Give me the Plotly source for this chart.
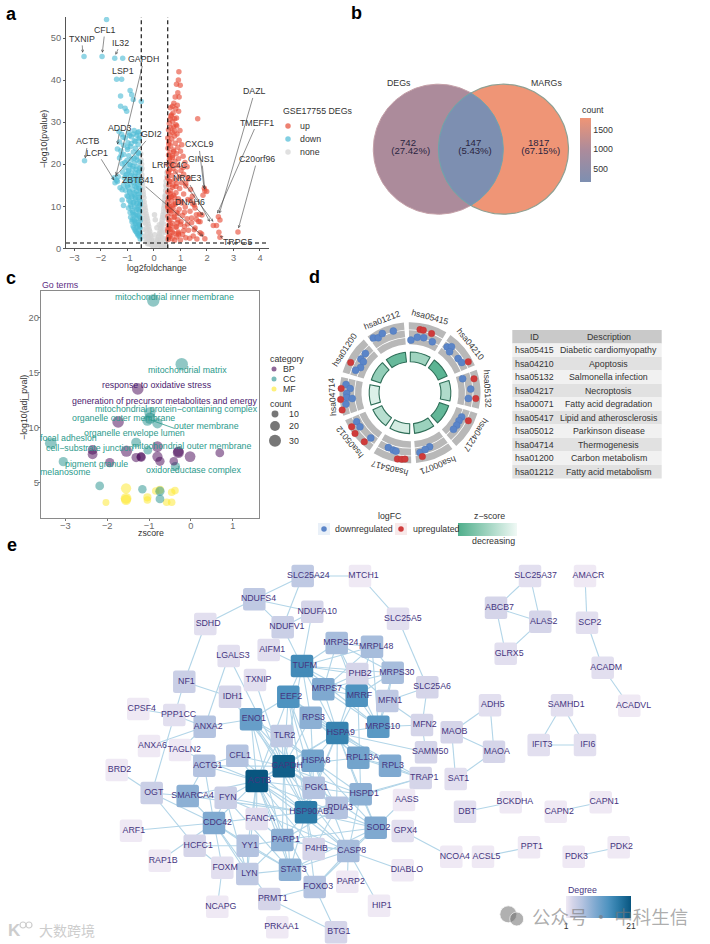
import numpy as np
import plotly.graph_objects as go

W, H = 710, 944
FONT = "Liberation Sans"

# ---------- panel a data ----------
up_x = [0.94,0.92,0.99,0.85,0.9,0.95,0.8,0.75,0.88,0.7,0.82,0.62,0.93,0.72,0.66,0.85,0.78,0.6,0.7,0.58,0.83,1.65,0.74,0.64,0.55,0.98,0.69,0.87,0.6,0.78,
 0.52,0.67,0.95,0.57,0.8,1.05,0.63,0.9,0.53,0.74,1.0,0.6,0.84,0.55,1.1,0.7,0.93,0.58,0.79,1.17,0.65,0.53,0.88,1.25,0.72,0.6,1.02,0.82,0.55,1.12,
 0.67,0.95,0.52,1.3,0.77,0.6,1.05,0.86,0.56,1.2,0.7,0.97,1.38,0.62,0.53,0.83,1.12,0.74,1.45,0.58,0.92,1.28,0.66,0.52,1.05,0.8,1.52,0.6,1.18,0.72,
 0.95,0.55,1.36,0.85,0.65,1.6,1.08,0.53,0.76,1.25,0.9,0.6,1.68,1.42,0.7,1.0,0.55,1.15,0.82,1.55,0.64,1.3,0.52,0.92,1.74,0.75,1.08,0.58,1.48,0.86,
 1.2,0.68,0.54,1.62,1.0,0.78,1.35,0.6,0.93,1.8,0.7,1.12,0.53,1.52,0.85,0.63,1.27,1.02,0.56,1.42,0.76,0.9,1.15,0.6,0.52,0.7,0.82,0.98,0.55,0.66,
 1.92,1.99,1.9,1.85,1.81,1.74,1.92,2.24,2.36,2.43,2.49,2.45,2.49,3.17,1.72,1.6,1.55,1.46,1.38,1.2,1.1,1.28,
 0.58,0.72,0.62,0.78,0.54,0.68,0.88,0.6,0.75,0.56,0.66,0.83,0.52,0.7,0.6,0.92,0.55,0.78,0.64,0.86]
up_y = [42,40,38.8,39,37,36,36,34.5,34,33.8,33.2,33.4,32.6,32.2,31.7,31,30.8,30.7,30.2,29.7,29.4,30.8,28.9,28.6,28.2,28,27.6,27.2,27,26.7,
 26.2,26,25.7,25.3,25,24.6,24.3,24,23.8,23.4,23.1,22.8,22.5,22.2,21.9,21.6,21.3,21,20.7,20.4,20.1,19.9,19.6,19.4,19,18.7,18.5,18.2,17.9,17.6,
 17.3,17,16.7,16.5,16.2,15.9,15.6,15.4,15.1,14.8,14.5,14.2,14,13.7,13.4,13.2,12.9,12.6,12.4,12.1,11.8,11.6,11.3,11,10.8,10.5,10.3,10,9.8,9.5,
 9.3,9,8.8,8.5,8.3,8,7.8,7.6,7.3,7,6.8,6.6,6.4,6.1,5.9,5.7,5.4,5.2,5,4.8,4.5,4.3,4.1,3.9,3.7,3.5,3.3,3.1,2.9,2.7,
 2.5,2.3,2.1,2.2,2,1.9,2.4,2.8,3.2,3.4,3.8,4.2,4.7,4.4,5.1,5.5,5.8,6.3,6.7,7.2,7.5,8.2,8.6,9.2,9.7,10.2,10.7,11.2,11.9,12.3,
 13.7,13.5,14.3,12.6,7.9,6.3,2.3,5.4,5.4,7.5,6.7,3.8,2.6,3.9,8.1,6.9,9.6,10.6,11.4,15.4,19.2,16.8,
 16,15,13,12,18.3,19.8,6.1,21.5,23,24.8,8.9,14.7,10.1,22,4.6,3.6,2.6,27.9,31.4,29.1]

down_x = [-2.64,-1.96,-1.48,-1.18,-1.79,-1.41,-1.22,-0.9,-0.84,-1.26,-0.78,-0.48,-1.26,-1.09,-1.03,-2.62,-1.47,-1.41,-1.5,-1.38,-1.35,-1.2,-1.15,
 -0.52,-0.55,-0.6,-0.52,-0.66,-0.58,-0.72,-0.53,-0.64,-0.79,-0.55,-0.7,-0.6,-0.83,-0.52,-0.75,-0.65,-0.88,-0.56,-0.78,
 -0.68,-0.9,-0.53,-0.82,-0.62,-0.96,-0.73,-0.55,-0.88,-0.66,-0.79,-0.52,-0.95,-0.7,-0.6,-0.85,-1.02,-0.75,-0.55,-0.92,-0.65,-1.08,-0.8,
 -0.58,-0.98,-0.72,-1.15,-0.87,-0.53,-1.05,-0.66,-1.28,-1.2,-0.94,-0.78,-1.12,-0.6,-0.88,-1.02,-0.7,-1.18,-0.55,-0.95,-0.8,-1.1,-0.64,-0.9,
 -1.2,-0.74,-0.54,-1.02,-0.85,-1.3,-0.66,-0.95,-1.14,-0.58,-0.78,-1.25,-1.0,-0.7,-1.38,-0.88,-1.15,-0.6,-0.98,-1.3,-0.74,-0.56,-1.08,-0.85,-0.65,-1.22,-0.95,-0.58,-0.75,-1.32,
 -0.57,-0.63,-0.7,-0.76,-0.54,-0.6,-0.68,-0.74,-0.82,-0.53,-0.61,-0.72,-0.8,-0.57,-0.66,-0.86,-0.52,-0.62,-0.76,-0.9,-0.56,-0.69,-0.83,-0.98,-0.59,-0.74,-0.92,-0.54,-0.67,-1.0,
 -0.62,-0.77,-0.89,-0.55,-0.72,-1.06,-0.84,-0.6,-0.97,-0.68,-0.53,-0.8,-0.93,-1.1,-0.64,-0.75,-1.24,-0.6,-1.0,-0.86,-0.7,-0.56,-1.17,-0.92,-0.78,-0.62]
down_y = [45.6,45.6,45.2,45.2,54.4,40.2,40.2,37.5,36.5,36.2,35.4,34.9,33.8,33.3,32.6,20.8,15.6,16.2,16.8,15.9,17,11.5,10.2,
 2.2,2.8,3.1,3.6,3.9,4.3,4.5,4.8,5,5.3,5.6,5.8,6.2,6.3,6.6,6.9,7.1,7.4,7.6,7.9,
 8.2,8.5,8.8,9,9.3,9.6,9.8,10.1,10.3,10.6,10.9,11.2,11.4,11.7,12,12.2,12.5,12.8,13,13.3,13.6,13.8,14,
 14.3,14.5,14.8,15,15.2,15.5,15.8,16,14.4,13.9,16.3,16.6,16.8,17,17.3,17.6,17.9,18.1,18.3,18.6,18.9,19.2,19.4,19.8,
 20.1,20.3,20.6,20.9,21.2,21.5,21.7,22,22.3,22.6,22.9,23.2,23.5,23.8,23.6,24.2,24.5,24.7,25.1,25.3,25.6,26,26.2,26.5,26.9,27.1,27.4,27.7,28,27.8,
 3.3,3.5,4.1,4.9,5.2,5.5,6,6.5,6.8,7.3,7.8,8,8.6,9.1,9.4,9.9,10.4,10.7,11,11.1,11.6,12.1,12.4,12.3,12.9,13.2,13.5,14.2,14.6,14.9,
 15.3,15.7,16.1,16.5,17.1,17.4,17.8,18,18.4,18.8,19.1,19.5,19.9,20.4,21,21.4,22.1,22.8,24,24.9,25.4,26.3,26.4,26.8,27.2,27.5]

none_x = [-0.5,-0.49,-0.47,-0.48,-0.46,-0.45,-0.48,-0.44,-0.43,-0.46,-0.42,-0.41,-0.45,-0.4,-0.38,-0.43,-0.37,-0.35,-0.41,-0.34,-0.32,-0.38,-0.3,-0.28,-0.35,-0.26,-0.24,-0.31,-0.22,-0.2,-0.28,-0.18,-0.16,-0.24,-0.14,-0.12,-0.2,-0.1,-0.08,-0.16,-0.06,-0.12,-0.04,-0.08,-0.02,
 -0.44,-0.36,-0.29,-0.21,-0.49,-0.4,-0.33,-0.26,-0.47,-0.39,-0.3,-0.24,-0.18,
 0.49,0.48,0.46,0.47,0.45,0.44,0.47,0.43,0.42,0.45,0.41,0.4,0.44,0.39,0.37,0.42,0.36,0.34,0.4,0.33,0.31,0.37,0.29,0.27,0.34,0.25,0.23,0.3,0.21,0.19,0.27,0.17,0.15,0.23,0.13,0.11,0.19,0.09,0.07,0.15,0.05,0.11,0.03,0.07,0.02,
 0.43,0.35,0.28,0.2,0.48,0.39,0.32,0.25,0.46,0.38,0.29,0.23,0.17,0.02,-0.02,0.0]
none_y = [22.5,21,20,18.5,17.5,19,16,16.5,15.5,14,14.5,13.5,12.5,12.8,12,11,11,10.2,9.5,9.6,9,8,8.2,7.6,7,7.1,6.5,5.8,5.8,5.2,4.7,4.5,4,3.5,3.3,2.8,2.6,2.2,1.8,1.6,1.4,1.1,1,0.7,0.5,
 8.5,6.2,4.2,2.6,10,4.5,3,1.6,6.8,2.8,1.8,1.1,1,
 18,17,16,14.5,15,13.7,12.4,12.6,12.3,11,11.6,10.8,9.6,10.2,9.5,8.4,8.7,8,7.2,7.4,6.8,5.8,6.1,5.5,4.6,4.7,4.1,3.6,3.5,3,2.6,2.6,2.1,1.8,1.7,1.2,1.1,1,0.8,0.6,
 6.8,4.9,3.2,2,8,3.8,2.4,1.3,5.6,2.2,1.4,1,0.7,0.3,0.3,0.2]

volcano_labels = ["TXNIP","CFL1","IL32","GAPDH","ADD3","GDI2","ACTB","LCP1","ZBTB41","LRRC4C","CXCL9","GINS1","NR2E3","DNAH6","DAZL","TMEFF1","C20orf96","TRPG5"]
volcano_lab_x = [-2.72,-1.85,-1.25,-0.38,-1.28,-0.09,-2.49,-2.14,-0.59,0.62,1.69,1.80,1.23,1.36,3.80,3.90,3.90,3.14]
volcano_lab_y = [49.8,51.9,48.9,44.9,28.7,27.1,25.4,22.7,16.2,19.8,24.7,21.2,16.6,11.0,37.3,29.9,21.2,1.43]
volcano_pt_x = [-2.69,-1.95,-1.45,-1.43,-1.38,-1.47,-2.6,-1.5,1.86,2.24,1.89,1.92,2.11,1.86,2.47,2.39,3.19,2.49]
volcano_pt_y = [46.5,46.5,46.0,17.4,24.7,17.0,21.4,16.2,2.8,6.3,14.3,13.9,6.3,7.9,8.3,8.3,4.75,2.8]

# ---------- panel b data ----------
venn_sets = ["DEGs", "MARGs"]
venn_counts = [742, 147, 1817]
venn_pct = ["(27.42%)", "(5.43%)", "(67.15%)"]

# ---------- panel c data ----------
cc_x = [-0.90,-0.22,-0.98,-0.98,-1.04,-0.80,-3.35,-1.31,-1.03,-3.05,-0.37,-2.18,-1.16,-0.74,-0.74]
cc_y = [21.56,15.76,11.35,10.84,10.62,10.38,8.56,8.62,7.92,6.88,6.43,4.67,4.36,4.18,3.48]
cc_n = [32,32,26,26,22,22,28,20,16,18,18,16,15,18,16]
bp_x = [-1.27,-1.74,-2.35,-2.35,-1.54,-1.31,-1.19,-1.19,-0.80,-0.80,-0.74,-0.41,-0.30,-0.30,-0.02,0.69,2.24,-1.94]
bp_y = [13.51,10.5,7.95,7.55,7.83,7.25,7.28,7.34,8.25,7.34,6.91,6.91,7.71,7.8,7.34,7.67,8.0,6.79]
bp_n = [28,28,20,20,26,18,18,16,24,22,18,15,26,22,24,16,18,18]
mf_x = [-1.55,-1.55,-1.55,-1.04,-1.04,-2.03,-0.84,-0.74,-0.46,-0.38,-0.58,-0.46]
mf_y = [4.45,3.54,3.4,3.63,3.38,3.15,4.21,4.3,4.09,4.24,3.18,3.18]
mf_n = [22,24,22,14,12,10,12,14,12,12,12,12]
go_terms = ["mitochondrial inner membrane","mitochondrial matrix","response to oxidative stress",
 "generation of precursor metabolites and energy","mitochondrial protein−containing complex","organelle outer membrane",
 "outer membrane","organelle envelope lumen","focal adhesion","cell−substrate junction","mitochondrial outer membrane",
 "pigment granule","melanosome","oxidoreductase complex"]
go_term_cat = ["CC","CC","BP","BP","CC","CC","CC","CC","CC","CC","CC","CC","CC","CC"]
go_term_x = [-0.40,-0.08,-0.80,-0.64,-0.34,-1.61,0.37,-1.35,-2.93,-2.43,0.02,-2.25,-3.0,0.06]
go_term_y = [21.9,15.2,13.85,12.45,11.7,10.9,10.15,9.5,9.0,8.15,8.3,6.7,5.9,6.1]

# ---------- panel d data ----------
kegg_ids = ["hsa05415","hsa04210","hsa05132","hsa04217","hsa00071","hsa05417","hsa05012","hsa04714","hsa01200","hsa01212"]
kegg_desc = ["Diabetic cardiomyopathy","Apoptosis","Salmonella infection","Necroptosis","Fatty acid degradation",
 "Lipid and atherosclerosis","Parkinson disease","Thermogenesis","Carbon metabolism","Fatty acid metabolism"]
kegg_z = [-2.0,-3.7,-1.6,-3.5,-2.1,-0.7,-1.4,-0.5,-2.3,-3.4]
down_theta = [1,7.5,14,23.6,39,42,44,54.6,59.6,75,86.5,95.5,115,119.7,124.7,130,160,170.5,165,201.6,196.2,193.5,241.5,235.8,221,277.4,274,269.4,265.8,264.4,260,311.4,304.5,303.6,297,292.6,326.3,330,335,344.9]
down_r = [52.7,56,56.8,55.7,59,62,57,59,60,54.5,60.8,58.6,57,56.4,56.8,56.8,57.4,60.5,58.6,58.8,59.7,60,60.7,60.5,59.8,64.5,60,63.3,63.5,58,65,59.5,59.5,56,55.5,58.9,66,63.5,65.5,64]
up_theta = [9,12,20,62,77.7,95,115.6,169,190.8,187,184.3,239.8,233.5,223,273.6,264.5,255.8,297]
up_r = [64,64,63,66,65.5,66,64.7,65,67.5,67,66.5,67.5,68.4,67,69,69.7,70,66.6]

# ---------- panel e data ----------
node_names = ["SLC25A24","MTCH1","NDUFS4","NDUFA10","SDHD","NDUFV1","MRPS24","AIFM1","LGALS3","TUFM","PHB2","TXNIP","NF1","MRPS7","MRRF","IDH1","EEF2","CPSF4","PPP1CC","ENO1","RPS3","ANXA2","TLR2","HSPA9","ANXA6","TAGLN2","CFL1","ACTG1","GAPDH","HSPA8","BRD2","ACTB","PGK1","OGT","SMARCA4","FYN","PDIA3","HSP90AB1","FANCA","CDC42","ARF1","PARP1","HCFC1","YY1","P4HB","CASP8","RAP1B","FOXM","LYN","STAT3","FOXO3","PARP2","PRMT1","NCAPG","PRKAA1","BTG1",
 "SLC25A5","MRPL48","MRPS30","SLC25A6","MFN1","MFN2","MRPS10","MAOB","ADH5","MAOA","SAMM50","RPL13A","RPL3","TRAP1","SAT1","HSPD1","AASS","DBT","BCKDHA","CAPN2","CAPN1","SOD2","GPX4","NCOA4","ACSL5","PPT1","PDK3","PDK2","DIABLO","HIP1","SLC25A37","AMACR","ABCB7","ALAS2","SCP2","GLRX5","ACADM","ACADVL","SAMHD1","IFIT3","IFI6"]
node_x = [302.7,360,254.3,312.3,205.3,282.7,336.7,268.7,228.7,302,357.3,255,184.3,323.3,356.7,230,288.3,138.3,174.3,251,310.7,204.7,281.7,337.3,149,180,237.3,204.3,283.7,312.7,116.7,256.7,313.7,151.7,187.7,225.7,336.7,306,256.7,214,131,282.3,194.7,247.7,313.7,348.3,159.7,222.3,247.3,290,314.7,347.3,269.3,217.3,277.3,336,
 398,372,392.7,427.3,387.3,422,378.3,451.7,490,494,426,358.3,390,420.7,455.7,360.7,404,465,510.7,555.7,600.7,375.7,402.7,451.3,483,529,573.7,618.7,402.7,379,530,585,496,540.3,587,505.7,602.7,629.3,562,538.7,585]
node_y = [576,576,599.3,611.7,624,627.3,643,650,656,666,674,680,681.7,689.3,695.7,696.7,696.7,709,715,719.3,717.7,726.7,736,733,746,750,755.7,765.7,766.3,760.7,770,781,787.7,793,796,797.7,807.7,812.3,819,823,830.7,840,845.7,845.7,849,851,860.7,867.7,874,869.7,887,881.7,899,906.7,927.3,932.3,
 618.7,646.7,672.7,687.3,701,725,726.7,732.3,705.3,751.7,752.3,757.7,765.7,778,779,794.3,800,811.7,802.3,811.7,802.3,827.7,831,856.7,856.7,847.3,856.7,847.3,870.3,905.7,576,576,607.7,621.7,622.7,653.7,667.7,705.7,705.3,745,745]
node_degree = [5,1,5,3,2,4,7,2,2,15,3,2,4,10,14,3,14,1,2,12,9,6,5,16,1,1,6,6,20,11,1,21,6,4,9,4,6,17,2,10,1,9,3,6,3,7,1,2,5,9,6,1,3,1,1,3,
 2,7,7,3,5,3,13,3,2,3,3,11,10,3,2,9,1,2,1,1,1,10,2,1,1,1,1,1,1,1,2,1,3,3,2,2,2,1,2,2,2]
edges = """SLC25A24-MTCH1 SLC25A24-NDUFS4 SLC25A24-NDUFV1 NDUFS4-NDUFA10 NDUFS4-NDUFV1 NDUFS4-SDHD NDUFA10-NDUFV1 NDUFA10-TUFM NDUFV1-TUFM MTCH1-SLC25A5 SLC25A5-SLC25A6 SLC25A6-MFN1 SLC25A6-MFN2 SDHD-NF1 NF1-IDH1 NF1-OGT LGALS3-ANXA2 LGALS3-GAPDH TXNIP-GAPDH AIFM1-TUFM IDH1-GAPDH CPSF4-PPP1CC PPP1CC-ANXA2 ANXA2-ENO1 ANXA6-ANXA2 TAGLN2-ANXA2 TAGLN2-ACTB
TUFM-MRPS24 TUFM-MRPS7 TUFM-PHB2 TUFM-MRRF TUFM-EEF2 TUFM-RPS3 TUFM-HSPA9 TUFM-MRPS10 TUFM-GAPDH TUFM-MRPL48 TUFM-MRPS30 MRPS24-MRPS7 MRPS24-MRRF MRPS24-MRPL48 MRPS24-MRPS30 MRPS24-MRPS10 MRPS7-MRRF MRPS7-MRPL48 MRPS7-MRPS30 MRPS7-MRPS10 MRPS7-HSPA9 MRRF-MRPL48 MRRF-MRPS30 MRRF-MRPS10 MRRF-HSPA9 MRPL48-MRPS30 MRPL48-MRPS10 MRPS30-MRPS10 MFN1-MRPS30 MFN1-MFN2 MFN1-MRPS10 PHB2-MRPS7 PHB2-HSPA9 PHB2-MFN1 PHB2-HSPD1
HSPA9-HSPD1 HSPA9-HSPA8 HSPA9-GAPDH HSPA9-ACTB HSPA9-RPL13A HSPA9-SAMM50 HSPA9-PGK1 HSPA9-HSP90AB1 HSPA9-SOD2 HSPA9-PDIA3 HSPA9-MRPS10 EEF2-RPS3 EEF2-GAPDH EEF2-ACTB EEF2-ENO1 EEF2-HSPA8 EEF2-HSPA9 EEF2-PGK1 EEF2-RPL13A EEF2-RPL3 EEF2-HSP90AB1 RPS3-RPL13A RPS3-RPL3 RPS3-HSPA8 RPS3-GAPDH RPS3-HSPA9 RPL13A-RPL3 RPL13A-GAPDH RPL13A-TRAP1 RPL3-TRAP1 TRAP1-HSPD1 TRAP1-HSPA9 TRAP1-HSP90AB1
ENO1-GAPDH ENO1-ACTB ENO1-HSP90AB1 ENO1-PGK1 ENO1-TLR2 ENO1-HSPA8 ENO1-PARP1 TLR2-GAPDH TLR2-HSPA8 TLR2-HSP90AB1 TLR2-ACTB CFL1-ACTB CFL1-GAPDH CFL1-ACTG1 CFL1-HSP90AB1 ACTG1-ACTB ACTG1-GAPDH ACTG1-SMARCA4 ACTG1-CDC42 GAPDH-ACTB GAPDH-HSPA8 GAPDH-PGK1 GAPDH-HSP90AB1 GAPDH-PDIA3 GAPDH-HSPD1 GAPDH-SOD2 GAPDH-PARP1 GAPDH-CASP8 GAPDH-STAT3
ACTB-HSPA8 ACTB-PGK1 ACTB-HSP90AB1 ACTB-FYN ACTB-CDC42 ACTB-SMARCA4 ACTB-FANCA ACTB-PARP1 ACTB-STAT3 ACTB-LYN ACTB-YY1 ACTB-SOD2 ACTB-FOXO3 ACTB-CASP8 ACTB-P4HB HSPA8-HSP90AB1 HSPA8-PGK1 HSPA8-HSPD1 HSPA8-PDIA3 HSPA8-CASP8 HSPA8-SOD2 PGK1-PDIA3 PGK1-HSPD1 HSP90AB1-PDIA3 HSP90AB1-P4HB HSP90AB1-STAT3 HSP90AB1-CASP8 HSP90AB1-FYN HSP90AB1-PARP1 HSP90AB1-CDC42 HSP90AB1-SMARCA4 HSP90AB1-HSPD1 HSP90AB1-SOD2 HSP90AB1-FOXO3
PDIA3-P4HB PDIA3-HSPD1 HSPD1-SOD2 HSPD1-CASP8 HSPD1-PARP1 SOD2-AASS SOD2-CASP8 SOD2-FOXO3 SOD2-STAT3 SOD2-PARP1 GPX4-NCOA4 CASP8-DIABLO CASP8-PARP2 CASP8-HIP1 CASP8-PARP1 CASP8-FOXO3 CASP8-STAT3 CASP8-FYN STAT3-LYN STAT3-YY1 STAT3-PARP1 STAT3-FYN STAT3-CDC42 LYN-FYN LYN-CDC42 LYN-YY1 LYN-PARP1 FYN-CDC42 FYN-SMARCA4 SMARCA4-CDC42 SMARCA4-OGT OGT-BRD2 OGT-CDC42 OGT-HCFC1 HCFC1-YY1 HCFC1-CDC42 HCFC1-FOXM FOXM-NCAPG FOXM-CDC42 YY1-PARP1 YY1-CDC42 PARP1-CASP8 PARP1-FANCA PRMT1-FOXO3 PRMT1-BTG1 PRMT1-CDC42 FOXO3-BTG1 RAP1B-CDC42 ARF1-CDC42 SAMM50-MFN2 MFN2-MRPS10
MAOB-ADH5 ADH5-MAOA MAOB-MAOA MAOB-SAT1 MAOA-SAT1 DBT-BCKDHA CAPN2-CAPN1 ACSL5-PPT1 PDK3-PDK2 SLC25A37-ABCB7 SLC25A37-ALAS2 ABCB7-ALAS2 ABCB7-GLRX5 ALAS2-GLRX5 AMACR-SCP2 SCP2-ACADM ACADM-ACADVL SAMHD1-IFIT3 SAMHD1-IFI6 IFIT3-IFI6""".split()

# ---------- helpers ----------
def fx(p): return p / W
def fy(p): return 1 - p / H

fig = go.Figure()
ann = []
shapes = []

def txt(x, y, s, size=8.8, color="#333333", xanchor="center", angle=0, family=FONT, bold=False):
    ann.append(dict(xref="x3", yref="y3", x=x, y=y, text=f"<b>{s}</b>" if bold else s, showarrow=False,
                    xanchor=xanchor, yanchor="middle", textangle=angle,
                    font=dict(family=family, size=size, color=color)))

# ---------- panel a ----------
XA = dict(xaxis="x", yaxis="y")
fig.add_trace(go.Scatter(x=none_x, y=none_y, mode="markers", name="none", marker=dict(size=5.5, color="#D3D3D3", opacity=0.75), **XA))
fig.add_trace(go.Scatter(x=down_x, y=down_y, mode="markers", name="down", marker=dict(size=5.5, color="#4DBBD5", opacity=0.62), **XA))
fig.add_trace(go.Scatter(x=up_x, y=up_y, mode="markers", name="up", marker=dict(size=5.5, color="#E64B35", opacity=0.62), **XA))
fig.add_trace(go.Scatter(x=[-0.48, -0.48, None, 0.52, 0.52, None, -3.32, 4.33], y=[0, 55, None, 0, 55, None, 1.27, 1.27], mode="lines",
                         line=dict(color="black", width=1.1, dash="4px,3px"), showlegend=False, **XA))
for s, lx, ly, px_, py_ in zip(volcano_labels, volcano_lab_x, volcano_lab_y, volcano_pt_x, volcano_pt_y):
    ann.append(dict(xref="x", yref="y", axref="x", ayref="y", x=px_, y=py_, ax=lx, ay=ly, text=s, showarrow=True,
                    arrowhead=5, arrowsize=0.9, arrowwidth=0.55, arrowcolor="#333333", font=dict(family=FONT, size=8.8, color="#333333")))
ann.append(dict(xref="x", yref="y", x=-1.18, y=42.2, text="LSP1", showarrow=False, font=dict(family=FONT, size=8.8, color="#333333")))
txt(157, 268, "log2foldchange", 8.8)
txt(44.3, 139, "−log10(pvalue)", 8.8, angle=-90)

txt(281, 111, "GSE17755 DEGs", 8.8, xanchor="left")
for lab, col, y in [("up", "#E64B35", 126), ("down", "#4DBBD5", 139), ("none", "#D3D3D3", 152)]:
    fig.add_trace(go.Scatter(x=[288], y=[y], mode="markers", marker=dict(size=5.5, color=col, opacity=0.7), xaxis="x3", yaxis="y3", showlegend=False))
    txt(298, y, lab, 8.8, xanchor="left")

# ---------- panel b ----------
t = np.linspace(0, 2 * np.pi, 181)
R = 65.0
cx1, cx2, cy = 438.3, 503.5, 149.2
fig.add_trace(go.Scatter(x=cx1 + R * np.cos(t), y=cy + R * np.sin(t), mode="lines", fill="toself", fillcolor="#AC8B9B",
                         line=dict(color="#C4A0A8", width=1), xaxis="x3", yaxis="y3", showlegend=False))
fig.add_trace(go.Scatter(x=cx2 + R * np.cos(t), y=cy + R * np.sin(t), mode="lines", fill="toself", fillcolor="#EF9576",
                         line=dict(color="#8FA093", width=1.2), xaxis="x3", yaxis="y3", showlegend=False))
half = np.arccos((cx2 - cx1) / 2 / R)
a1 = np.linspace(-half, half, 60)
a2 = np.linspace(np.pi - half, np.pi + half, 60)
lx = np.r_[cx1 + R * np.cos(a1), cx2 + R * np.cos(a2)]
ly = np.r_[cy + R * np.sin(a1), cy + R * np.sin(a2)]
fig.add_trace(go.Scatter(x=np.r_[lx, lx[0]], y=np.r_[ly, ly[0]], mode="lines", fill="toself", fillcolor="#7D8FB1",
                         line=dict(color="#6FA3AE", width=1), xaxis="x3", yaxis="y3", showlegend=False))
venn_text_x = [408, 473.3, 538.7]
venn_pct_x = [410.7, 475, 540.7]
fig.add_trace(go.Scatter(x=venn_text_x, y=[144] * 3, mode="markers+text", text=[str(v) for v in venn_counts], textposition="middle center",
                         textfont=dict(family=FONT, size=9.6, color="#2A2440"),
                         marker=dict(size=0.1, color=venn_counts, cmin=147, cmax=1817,
                                     colorscale=[[0, "#7D8FB1"], [0.5, "#AC8B9B"], [1, "#EF9576"]],
                                     colorbar=dict(x=fx(580), xanchor="left", y=fy(182), yanchor="bottom", len=64, lenmode="pixels",
                                                   thickness=10.7, thicknessmode="pixels", xpad=0, ypad=0, outlinewidth=0, ticks="",
                                                   tickvals=[500, 1000, 1500], tickfont=dict(family=FONT, size=8.8, color="#333333"))),
                         xaxis="x3", yaxis="y3", showlegend=False))
fig.add_trace(go.Scatter(x=venn_pct_x, y=[152] * 3, mode="text", text=venn_pct, textposition="middle center",
                         textfont=dict(family=FONT, size=9.6, color="#2A2440"), xaxis="x3", yaxis="y3", showlegend=False))
txt(399.3, 82.7, venn_sets[0], 8.8)
txt(546.7, 82.7, venn_sets[1], 8.8)
txt(580, 110, "count", 8.8, xanchor="left")

# ---------- panel c ----------
CCOL, BCOL, MCOL = "#21908C", "#440154", "#FDE725"
def bub(x, y, n, col, name):
    fig.add_trace(go.Scatter(x=x, y=y, mode="markers", name=name, cliponaxis=False,
                             marker=dict(size=n, sizemode="area", sizeref=2 * 30 / 144, color=col, opacity=0.5, line=dict(width=0)),
                             xaxis="x2", yaxis="y2", showlegend=False))
bub(mf_x, mf_y, mf_n, MCOL, "MF")
bub(cc_x, cc_y, cc_n, CCOL, "CC")
bub(bp_x, bp_y, bp_n, BCOL, "BP")
for s, c, x, y in zip(go_terms, go_term_cat, go_term_x, go_term_y):
    ann.append(dict(xref="x2", yref="y2", x=x, y=y, text=s, showarrow=False,
                    font=dict(family=FONT, size=8.8, color="#4A1A6E" if c == "BP" else "#2B9A8C")))
ann.append(dict(xref="x2", yref="y2", axref="x2", ayref="y2", x=-0.98, y=10.7, ax=-0.35, ay=9.85, text="", showarrow=True,
                arrowhead=0, arrowwidth=0.8, arrowcolor="#2B9A8C"))
txt(40, 285, "Go terms", 8.8, color="#5B2C83", xanchor="left")
txt(151, 533, "zscore", 8.8)
txt(24, 408, "−log10(adj_pval)", 8.8, angle=-90)
txt(268, 359, "category", 8.8, xanchor="left")
for lab, col, y in [("BP", BCOL, 369), ("CC", CCOL, 379), ("MF", MCOL, 389)]:
    fig.add_trace(go.Scatter(x=[274], y=[y], mode="markers", marker=dict(size=5, color=col, opacity=0.6), xaxis="x3", yaxis="y3", showlegend=False))
    txt(281, y, lab, 8.8, xanchor="left")
txt(268, 403.7, "count", 8.8, xanchor="left")
for lab, sz, y in [("10", 6.9, 414), ("20", 9.8, 426), ("30", 12, 440.7)]:
    fig.add_trace(go.Scatter(x=[275], y=[y], mode="markers", marker=dict(size=sz, color="#555555", opacity=0.8), xaxis="x3", yaxis="y3", showlegend=False))
    txt(286.7, y, lab, 8.8, xanchor="left")

# ---------- panel d ----------
centers = [36 * i + 15 for i in range(10)]
for r0, r1 in [(48.5, 55), (55.8, 62.6), (63.4, 70.5)]:
    fig.add_trace(go.Barpolar(r=[r1 - r0] * 10, base=[r0] * 10, theta=centers, width=[32] * 10,
                              marker=dict(color="#B8B8B8", line=dict(width=0)), subplot="polar", showlegend=False))
fig.add_trace(go.Barpolar(r=[9.8] * 10, base=[31] * 10, theta=centers, width=[29] * 10, text=kegg_ids,
                          marker=dict(color=kegg_z, cmin=-4, cmax=0, colorscale=[[0, "#4FAE8B"], [1, "#F0F9F5"]],
                                      line=dict(color="#2F6E58", width=1.1),
                                      colorbar=dict(orientation="h", x=fx(457.7), xanchor="left", y=fy(523), yanchor="top", len=59, lenmode="pixels",
                                                    thickness=12.7, thicknessmode="pixels", xpad=0, ypad=0, outlinewidth=0, ticks="", showticklabels=False)),
                          subplot="polar", showlegend=False))
fig.add_trace(go.Scatterpolar(r=down_r, theta=down_theta, mode="markers", marker=dict(size=7, color="#5B85C8", line=dict(color="#4A74B8", width=0.4)), subplot="polar", showlegend=False))
fig.add_trace(go.Scatterpolar(r=up_r, theta=up_theta, mode="markers", marker=dict(size=6.5, color="#CF3B3B", line=dict(color="#B83030", width=0.4)), subplot="polar", showlegend=False))
CX, CY = 410.0, 392.8
for s, a in zip(kegg_ids, centers):
    rad = np.deg2rad(a)
    txt(CX + 78 * np.sin(rad), CY - 78 * np.cos(rad), s, 8.6, angle=a)
txt(390, 516, "logFC", 8.8)
txt(489, 516, "z−score", 8.8)
txt(493, 540.7, "decreasing", 8.8)
shapes.append(dict(type="rect", xref="x3", yref="y3", x0=318, x1=330, y0=523, y1=535, fillcolor="#E9F0F8", line_width=0, layer="below"))
shapes.append(dict(type="rect", xref="x3", yref="y3", x0=395, x1=407, y0=523, y1=535, fillcolor="#F8E9E9", line_width=0, layer="below"))
fig.add_trace(go.Scatter(x=[324], y=[529], mode="markers", marker=dict(size=5.5, color="#5B85C8"), xaxis="x3", yaxis="y3", showlegend=False))
fig.add_trace(go.Scatter(x=[401], y=[529], mode="markers", marker=dict(size=5.5, color="#CF3B3B"), xaxis="x3", yaxis="y3", showlegend=False))
txt(333.3, 529, "downregulated", 8.8, xanchor="left")
txt(411, 529, "upregulated", 8.8, xanchor="left")

# table
T_L, T_M, T_R, T_T = 512.3, 555.7, 661.7, 330.0
RH = 13.5
shapes.append(dict(type="rect", xref="x3", yref="y3", x0=T_L, x1=T_R, y0=T_T, y1=T_T + RH, fillcolor="#C9C9C9", line_width=0, layer="below"))
txt((T_L + T_M) / 2, T_T + RH / 2, "ID", 8.8)
txt((T_M + T_R) / 2, T_T + RH / 2, "Description", 8.8)
for i, (a, b) in enumerate(zip(kegg_ids, kegg_desc)):
    y0 = T_T + RH * (i + 1)
    shapes.append(dict(type="rect", xref="x3", yref="y3", x0=T_L, x1=T_R, y0=y0, y1=y0 + RH,
                       fillcolor="#F1F1F1" if i % 2 == 0 else "#E1E1E1", line_width=0, layer="below"))
    txt((T_L + T_M) / 2, y0 + RH / 2, a, 8.8)
    txt((T_M + T_R) / 2, y0 + RH / 2, b, 8.8)

# ---------- panel e ----------
idx = {n: i for i, n in enumerate(node_names)}
ex, ey = [], []
for e in edges:
    a, b = e.split("-")
    ex += [node_x[idx[a]], node_x[idx[b]], None]
    ey += [node_y[idx[a]], node_y[idx[b]], None]
fig.add_trace(go.Scatter(x=ex, y=ey, mode="lines", line=dict(color="#B2D5E8", width=1.1), xaxis="x3", yaxis="y3", showlegend=False))
DEG_SCALE = [[0, "#EFE9F4"], [0.1, "#D5D5E9"], [0.25, "#B4C3E0"], [0.45, "#7FA9D0"], [0.65, "#4E93C0"], [0.8, "#2C7BA8"], [1, "#08557F"]]
fig.add_trace(go.Scatter(x=node_x, y=node_y, mode="markers", xaxis="x3", yaxis="y3", showlegend=False, text=node_names,
                         marker=dict(symbol="square", size=17.5, color=node_degree, cmin=1, cmax=21, colorscale=DEG_SCALE,
                                     line=dict(width=5, color=node_degree, cmin=1, cmax=21, colorscale=DEG_SCALE),
                                     colorbar=dict(orientation="h", x=fx(566), xanchor="left", y=fy(896), yanchor="top", len=65, lenmode="pixels",
                                                   thickness=22, thicknessmode="pixels", xpad=0, ypad=0, outlinewidth=0, ticks="",
                                                   tickvals=[1, 21], tickfont=dict(family=FONT, size=8.5, color="#333333")))))
fig.add_trace(go.Scatter(x=[x + 0.7 * len(n) for x, n in zip(node_x, node_names)], y=node_y, mode="text", text=node_names,
                         textposition="middle center", textfont=dict(family=FONT, size=8.8, color="#45357F"),
                         xaxis="x3", yaxis="y3", showlegend=False))
txt(566, 890, "Degree", 8.8, color="#45357F", xanchor="left")

# watermarks
fig.add_trace(go.Scatter(x=[508.3, 516.7], y=[914.3, 919], mode="markers", marker=dict(size=[17, 14], color="rgba(115,115,115,0.8)", line=dict(color="white", width=0.8)),
                         xaxis="x3", yaxis="y3", showlegend=False))
txt(530, 916, "公众号 · 中科生信", 18.5, color="rgba(120,120,120,0.62)", xanchor="left", family="Noto Sans CJK SC")
txt(37, 930, "大数跨境", 14, color="#CDCDCD", xanchor="left", family="Noto Sans CJK SC")
txt(14, 930, "K", 17, color="#CDCDCD", bold=True)
fig.add_trace(go.Scatter(x=[23, 29], y=[925, 925], mode="markers", marker=dict(size=6, color="rgba(0,0,0,0)", line=dict(color="#CDCDCD", width=1.2)),
                         xaxis="x3", yaxis="y3", showlegend=False))

# panel letters
for s, x, y in [("a", 11, 14), ("b", 356, 13), ("c", 11, 278), ("d", 314, 277), ("e", 12, 545)]:
    txt(x, y, s, 18, color="#000000", bold=True)

# ---------- layout ----------
tick_font = dict(family=FONT, size=9.3, color="#6A6A6A")
fig.update_layout(
    width=W, height=H, margin=dict(l=0, r=0, t=0, b=0, autoexpand=False), paper_bgcolor="white", plot_bgcolor="rgba(0,0,0,0)",
    showlegend=False, font=dict(family=FONT), annotations=ann, shapes=shapes,
    xaxis=dict(domain=[fx(66), fx(268.7)], range=[-3.32, 4.33], showgrid=False, zeroline=False, showline=True, linecolor="#555555", linewidth=1,
               ticks="outside", ticklen=2, tickcolor="#555555", tickvals=[-3, -2, -1, 0, 1, 2, 3, 4], tickfont=tick_font, ticklabelstandoff=-1, anchor="y"),
    yaxis=dict(domain=[fy(248.3), fy(17)], range=[0, 55], showgrid=False, zeroline=False, showline=True, linecolor="#555555", linewidth=1,
               ticks="outside", ticklen=2, tickcolor="#555555", tickvals=[0, 10, 20, 30, 40, 50], tickfont=tick_font, anchor="x"),
    xaxis2=dict(domain=[fx(40.7), fx(258.7)], range=[-3.59, 1.62], showgrid=False, zeroline=False, showline=True, mirror=True, linecolor="#8A8A8A", linewidth=1,
                ticks="outside", ticklen=2, tickcolor="#777777", tickvals=[-3, -2, -1, 0, 1], tickfont=tick_font, ticklabelstandoff=-3, anchor="y2"),
    yaxis2=dict(domain=[fy(517.7), fy(290.7)], range=[1.77, 22.46], showgrid=False, zeroline=False, showline=True, mirror=True, linecolor="#8A8A8A", linewidth=1,
                ticks="outside", ticklen=2, tickcolor="#777777", tickvals=[5, 10, 15, 20], tickfont=tick_font, ticklabelstandoff=-3, anchor="x2"),
    xaxis3=dict(domain=[0, 1], range=[0, W], visible=False, anchor="y3", fixedrange=True),
    yaxis3=dict(domain=[0, 1], range=[H, 0], visible=False, anchor="x3", fixedrange=True),
    polar=dict(domain=dict(x=[fx(CX - 72), fx(CX + 72)], y=[fy(CY + 72), fy(CY - 72)]), bgcolor="rgba(0,0,0,0)", barmode="overlay",
               radialaxis=dict(visible=False, range=[0, 72]),
               angularaxis=dict(visible=False, direction="clockwise", rotation=90)),
)
post = ("document.body.style.margin='0';"
        "var s=document.createElement('style');s.textContent='.points path{stroke-linejoin:round}';document.head.appendChild(s);")
fig.write_html("out.html", post_script=post, config=dict(displayModeBar=False))
